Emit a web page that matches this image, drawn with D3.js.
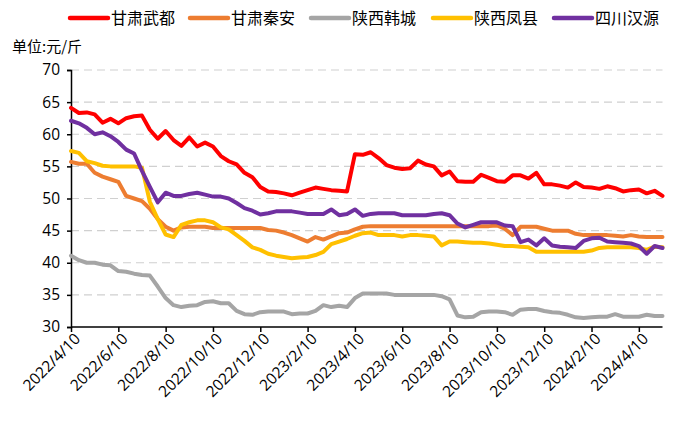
<!DOCTYPE html>
<html><head><meta charset="utf-8">
<script src="https://cdn.jsdelivr.net/npm/d3@7"></script>
<style>
html,body{margin:0;padding:0;background:#fff;}
svg{display:block;}
</style>
</head><body>
<svg id="chart" width="700" height="422"></svg>
<script>
const categories = [
"2022/4/10","2022/4/20","2022/4/30","2022/5/10","2022/5/20","2022/5/30",
"2022/6/10","2022/6/20","2022/6/30","2022/7/10","2022/7/20","2022/7/30",
"2022/8/10","2022/8/20","2022/8/30","2022/9/10","2022/9/20","2022/9/30",
"2022/10/10","2022/10/20","2022/10/30","2022/11/10","2022/11/20","2022/11/30",
"2022/12/10","2022/12/20","2022/12/30","2023/1/10","2023/1/20","2023/1/30",
"2023/2/10","2023/2/20","2023/2/28","2023/3/10","2023/3/20","2023/3/30",
"2023/4/10","2023/4/20","2023/4/30","2023/5/10","2023/5/20","2023/5/30",
"2023/6/10","2023/6/20","2023/6/30","2023/7/10","2023/7/20","2023/7/30",
"2023/8/10","2023/8/20","2023/8/30","2023/9/10","2023/9/20","2023/9/30",
"2023/10/10","2023/10/20","2023/10/30","2023/11/10","2023/11/20","2023/11/30",
"2023/12/10","2023/12/20","2023/12/30","2024/1/10","2024/1/20","2024/1/30",
"2024/2/10","2024/2/20","2024/2/29","2024/3/10","2024/3/20","2024/3/30",
"2024/4/10","2024/4/20","2024/4/30","2024/5/10"
];
const tickLabels = ["2022/4/10","2022/6/10","2022/8/10","2022/10/10","2022/12/10","2023/2/10","2023/4/10","2023/6/10","2023/8/10","2023/10/10","2023/12/10","2024/2/10","2024/4/10"];
const yTicks = [30,35,40,45,50,55,60,65,70];
const seriesNames = ["甘肃武都","甘肃秦安","陕西韩城","陕西凤县","四川汉源"];
const gansuWudu = [64.1,63.3,63.4,63.1,61.8,62.4,61.7,62.5,62.8,62.9,
60.7,59.3,60.5,59.1,58.2,59.5,58.1,58.7,58.1,56.6,
55.8,55.3,54.0,53.3,51.8,51.1,51.0,50.8,50.5,50.9,
51.3,51.7,51.5,51.3,51.2,51.1,56.9,56.8,57.2,56.3,
55.2,54.8,54.6,54.7,55.9,55.3,55.0,53.6,54.2,52.7,
52.6,52.6,53.7,53.2,52.7,52.6,53.6,53.6,53.1,54.0,
52.2,52.2,52.0,51.7,52.5,51.8,51.7,51.5,51.9,51.6,
51.1,51.3,51.4,50.8,51.2,50.4];
const gansuQinan = [55.7,55.4,55.4,54.0,53.4,53.0,52.6,50.4,50.0,49.6,
48.4,46.8,45.6,45.0,45.5,45.6,45.6,45.6,45.4,45.4,
45.4,45.4,45.4,45.4,45.4,45.1,45.0,44.7,44.3,43.8,
43.3,44.0,43.6,44.1,44.6,44.7,45.2,45.6,45.7,45.7,
45.7,45.7,45.7,45.7,45.7,45.7,45.7,45.7,45.7,45.7,
45.7,45.7,45.7,45.7,45.8,45.3,44.3,45.6,45.6,45.6,
45.3,45.0,45.0,45.0,44.5,44.3,44.3,44.3,44.3,44.2,
44.1,44.3,44.1,44.0,44.0,44.0];
const shaanxiHancheng = [41.1,40.4,40.0,40.0,39.7,39.6,38.7,38.6,38.3,38.1,
38.0,36.3,34.5,33.4,33.1,33.3,33.4,33.9,34.0,33.7,
33.7,32.5,32.0,31.9,32.3,32.4,32.4,32.4,32.0,32.1,
32.1,32.5,33.4,33.1,33.3,33.1,34.5,35.2,35.2,35.2,
35.2,35.0,35.0,35.0,35.0,35.0,35.0,34.8,34.3,31.8,
31.5,31.6,32.3,32.4,32.4,32.3,31.9,32.7,32.8,32.8,
32.5,32.3,32.2,31.9,31.5,31.4,31.5,31.6,31.6,32.0,
31.6,31.6,31.6,31.9,31.7,31.7];
const shaanxiFengxian = [57.4,57.1,55.8,55.5,55.1,55.0,55.0,55.0,55.0,54.8,
49.5,46.8,44.4,44.0,45.9,46.3,46.6,46.6,46.3,45.5,
45.2,44.3,43.4,42.4,42.0,41.4,41.1,40.9,40.7,40.8,
40.9,41.2,41.7,42.9,43.3,43.7,44.2,44.6,44.7,44.3,
44.3,44.3,44.1,44.3,44.3,44.2,44.1,42.7,43.3,43.3,
43.2,43.1,43.1,43.0,42.8,42.6,42.6,42.5,42.4,41.7,
41.7,41.7,41.7,41.7,41.7,41.7,41.9,42.3,42.4,42.4,
42.4,42.4,42.3,42.0,42.5,42.4];
const sichuanHanyuan = [62.1,61.7,61.0,60.0,60.3,59.7,58.8,57.6,57.0,54.3,
51.8,49.4,50.9,50.4,50.4,50.7,50.9,50.6,50.3,50.3,
50.0,49.3,48.5,48.1,47.5,47.7,48.0,48.0,48.0,47.8,
47.6,47.6,47.6,48.3,47.4,47.6,48.3,47.3,47.6,47.7,
47.7,47.7,47.4,47.4,47.4,47.4,47.6,47.7,47.4,46.1,
45.5,45.9,46.3,46.3,46.3,45.8,45.7,43.2,43.6,42.7,
43.8,42.7,42.5,42.4,42.3,43.4,43.8,43.9,43.3,43.2,
43.1,43.0,42.6,41.4,42.6,42.3];
const seriesColors = ["#FF0000","#ED7D31","#A5A5A5","#FFC000","#7030A0"];

const allSeries = [gansuWudu, gansuQinan, shaanxiHancheng, shaanxiFengxian, sichuanHanyuan];

const svg = d3.select("#chart");
const font = "'Open Sans', 'Noto Sans CJK SC', sans-serif";
const plotLeft = 71, plotRight = 662.5, plotTop = 70, plotBottom = 327;

const x = d3.scalePoint().domain(categories).range([plotLeft, plotRight]);
const y = d3.scaleLinear().domain([30, 70]).range([plotBottom, plotTop]);

// grid
svg.append("g").selectAll("line").data(yTicks.filter(d => d > 30)).join("line")
  .attr("x1", plotLeft).attr("x2", plotRight)
  .attr("y1", d => y(d)).attr("y2", d => y(d))
  .attr("stroke", "#D0D0D0").attr("stroke-width", 1.2)
  .attr("stroke-dasharray", "8,5");

// y axis
const yAxis = svg.append("g").attr("transform", `translate(${plotLeft},0)`)
  .call(d3.axisLeft(y).tickValues(yTicks).tickSize(4).tickPadding(7));
yAxis.select(".domain").attr("stroke", "#000").attr("stroke-width", 1.5);
yAxis.selectAll(".tick line").attr("stroke", "#000").attr("stroke-width", 1.5);
yAxis.selectAll("text").attr("font-family", font).attr("font-size", 15.5).attr("fill", "#000");

// x axis
const xAxis = svg.append("g").attr("transform", `translate(0,${plotBottom})`)
  .call(d3.axisBottom(x).tickValues(tickLabels).tickSize(5).tickPadding(4));
xAxis.select(".domain").attr("stroke", "#000").attr("stroke-width", 1.5)
  .attr("d", `M${plotLeft},0H${plotRight}`);
xAxis.selectAll(".tick line").attr("stroke", "#000").attr("stroke-width", 1.5);
xAxis.selectAll("text")
  .attr("font-family", font).attr("font-size", 15.5).attr("fill", "#000")
  .attr("text-anchor", "end")
  .attr("transform", "translate(6,9) rotate(-45)")
  .attr("dy", "0.35em").attr("y", 0).attr("x", 0);

// lines
const line = d3.line().x((d, i) => x(categories[i])).y(d => y(d));
svg.append("g").selectAll("path").data(allSeries).join("path")
  .attr("d", d => line(d))
  .attr("fill", "none")
  .attr("stroke", (d, i) => seriesColors[i])
  .attr("stroke-width", 4)
  .attr("stroke-linejoin", "round")
  .attr("stroke-linecap", "round");

// legend
const legendX = [70, 190, 311, 433, 554];
const lg = svg.append("g");
seriesNames.forEach((name, i) => {
  const g = lg.append("g").attr("transform", `translate(${legendX[i]},18)`);
  g.append("line").attr("x1", 0).attr("x2", 38).attr("y1", 0).attr("y2", 0)
    .attr("stroke", seriesColors[i]).attr("stroke-width", 4.5).attr("stroke-linecap", "round");
  g.append("text").attr("x", 41).attr("y", 0).attr("dy", "0.36em")
    .attr("font-family", "'Noto Sans CJK SC', sans-serif").attr("font-size", 16)
    .attr("fill", "#000").text(name);
});

// unit label
svg.append("text").attr("x", 12).attr("y", 47).attr("dy", "0.35em")
  .attr("font-family", "'Noto Sans CJK SC', sans-serif").attr("font-size", 15)
  .attr("fill", "#000").text("单位:元/斤");
</script>
</body></html>
